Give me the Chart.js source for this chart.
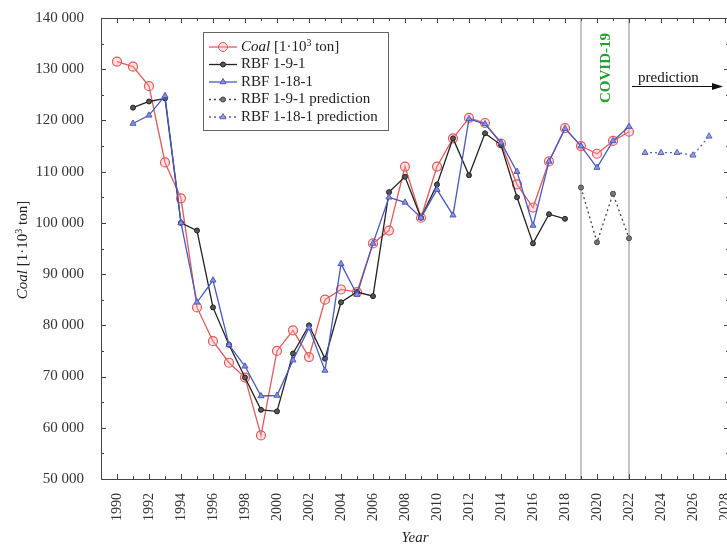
<!DOCTYPE html>
<html>
<head>
<meta charset="utf-8">
<script src="https://cdn.jsdelivr.net/npm/chart.js@4.4.1/dist/chart.umd.min.js"></script>
<style>
  html, body { margin: 0; padding: 0; background: #fff; overflow: hidden; }
  #wrap { width: 760px; height: 548px; }
</style>
</head>
<body>
<div id="wrap"><canvas id="coalChart" width="760" height="548"></canvas></div>
<script>
/* coal production vs RBF models */

const coalYears = [1990, 1991, 1992, 1993, 1994, 1995, 1996, 1997, 1998, 1999, 2000, 2001, 2002, 2003, 2004, 2005, 2006, 2007, 2008, 2009, 2010, 2011, 2012, 2013, 2014, 2015, 2016, 2017, 2018, 2019, 2020, 2021, 2022];
const coalValues = [131500, 130500, 126700, 111800, 104800, 83500, 76900, 72700, 69800, 58500, 75000, 79000, 73800, 85000, 87000, 86500, 96000, 98500, 111000, 101000, 111000, 116500, 120500, 119500, 115500, 107500, 103000, 112000, 118500, 115000, 113500, 116000, 117800];

const rbf191Years = [1991, 1992, 1993, 1994, 1995, 1996, 1997, 1998, 1999, 2000, 2001, 2002, 2003, 2004, 2005, 2006, 2007, 2008, 2009, 2010, 2011, 2012, 2013, 2014, 2015, 2016, 2017, 2018];
const rbf191Values = [122500, 123700, 124300, 100000, 98500, 83500, 76200, 69800, 63500, 63200, 74500, 80000, 73500, 84500, 86500, 85700, 106000, 109000, 101000, 107500, 116500, 109300, 117500, 115200, 105000, 96000, 101700, 100800];

const rbf1181Years = [1991, 1992, 1993, 1994, 1995, 1996, 1997, 1998, 1999, 2000, 2001, 2002, 2003, 2004, 2005, 2006, 2007, 2008, 2009, 2010, 2011, 2012, 2013, 2014, 2015, 2016, 2017, 2018, 2019, 2020, 2021, 2022];
const rbf1181Values = [119400, 121000, 124800, 100000, 84500, 88800, 76200, 72000, 66200, 66300, 73200, 79500, 71200, 92000, 86000, 96000, 105000, 104000, 101000, 106500, 101500, 120300, 119300, 115700, 110000, 99500, 112000, 118400, 115000, 110800, 116000, 118800];

const pred191Years = [2019, 2020, 2021, 2022];
const pred191Values = [106900, 96200, 105700, 97000];

const pred1181Years = [2023, 2024, 2025, 2026, 2027];
const pred1181Values = [113700, 113700, 113700, 113200, 116900];

const xTickYears = [1990, 1992, 1994, 1996, 1998, 2000, 2002, 2004, 2006, 2008, 2010, 2012, 2014, 2016, 2018, 2020, 2022, 2024, 2026, 2028];
const yTicks = [50000, 60000, 70000, 80000, 90000, 100000, 110000, 120000, 130000, 140000];
const covidYears = [2019, 2022];

const SERIF = '"Liberation Serif", "Times New Roman", serif';
const RED = "#e05a5a";
const BLACK = "#222";
const BLUE = "#4a58c0";

function fmt(v) {
  return String(v).replace(/\B(?=(\d{3})+(?!\d))/g, " ");
}

function pts(xs, ys) {
  return xs.map((x, i) => ({ x: x, y: ys[i] }));
}

// legend entries (style only)
const legendItems = [
  { text: "coal", color: RED, fill: "rgba(255,170,170,0.35)", style: "circle", r: 4.5, dash: [] },
  { text: "RBF 1-9-1", color: BLACK, fill: "#555", style: "circle", r: 2.5, dash: [] },
  { text: "RBF 1-18-1", color: BLUE, fill: "#8a92d8", style: "triangle", r: 3.5, dash: [] },
  { text: "RBF 1-9-1 prediction", color: "#444", fill: "#777", style: "circle", r: 2.5, dash: [2, 3] },
  { text: "RBF 1-18-1 prediction", color: "#5a64b8", fill: "#9aa0d8", style: "triangle", r: 3.5, dash: [2, 3] }
];

/* decorations: frame, ticks, covid band, legend, titles */
const decor = {
  id: "decor",
  beforeDatasetsDraw(chart) {
    const ctx = chart.ctx;
    const x = chart.scales.x;
    const a = chart.chartArea;
    ctx.save();
    ctx.strokeStyle = "#c4c4c4";
    ctx.lineWidth = 2;
    covidYears.forEach(yr => {
      const px = Math.round(x.getPixelForValue(yr));
      ctx.beginPath();
      ctx.moveTo(px, a.top);
      ctx.lineTo(px, a.bottom);
      ctx.stroke();
    });
    ctx.restore();
  },
  afterDraw(chart) {
    const ctx = chart.ctx;
    const x = chart.scales.x;
    const y = chart.scales.y;
    const a = chart.chartArea;
    ctx.save();

    // frame
    ctx.strokeStyle = "#444";
    ctx.lineWidth = 1;
    ctx.strokeRect(a.left + 0.5, a.top + 0.5, a.right - a.left, a.bottom - a.top);

    // ticks on all sides
    ctx.beginPath();
    for (let yr = 1989; yr <= 2028; yr++) {
      const px = Math.round(x.getPixelForValue(yr)) + 0.5;
      const len = yr % 2 === 0 ? 5 : 3;
      ctx.moveTo(px, a.bottom);
      ctx.lineTo(px, a.bottom - len);
      ctx.moveTo(px, a.top);
      ctx.lineTo(px, a.top + len);
    }
    for (let v = 50000; v <= 140000; v += 5000) {
      const py = Math.round(y.getPixelForValue(v)) + 0.5;
      const len = v % 10000 === 0 ? 5 : 3;
      ctx.moveTo(a.left, py);
      ctx.lineTo(a.left + len, py);
      ctx.moveTo(a.right, py);
      ctx.lineTo(a.right - len, py);
    }
    ctx.stroke();

    // COVID-19 label
    const cx = (x.getPixelForValue(covidYears[0]) + x.getPixelForValue(covidYears[1])) / 2;
    ctx.save();
    ctx.translate(cx + 5, 68);
    ctx.rotate(-Math.PI / 2);
    ctx.fillStyle = "#23a02e";
    ctx.font = "bold 15px " + SERIF;
    ctx.textAlign = "center";
    ctx.fillText("COVID-19", 0, 0);
    ctx.restore();

    // prediction arrow
    const ax0 = x.getPixelForValue(2022) + 3;
    const ax1 = 723;
    ctx.fillStyle = "#111";
    ctx.font = "15px " + SERIF;
    ctx.textAlign = "left";
    ctx.fillText("prediction", ax0 + 6, 82);
    ctx.strokeStyle = "#111";
    ctx.beginPath();
    ctx.moveTo(ax0, 86.5);
    ctx.lineTo(ax1 - 8, 86.5);
    ctx.stroke();
    ctx.beginPath();
    ctx.moveTo(ax1, 86.5);
    ctx.lineTo(ax1 - 11, 83);
    ctx.lineTo(ax1 - 11, 90);
    ctx.closePath();
    ctx.fill();

    // legend box
    const lx = 203, ly = 32, lw = 185, lh = 98;
    ctx.fillStyle = "#fff";
    ctx.fillRect(lx, ly, lw, lh);
    ctx.strokeStyle = "#666";
    ctx.strokeRect(lx + 0.5, ly + 0.5, lw, lh);
    legendItems.forEach((it, i) => {
      const ry = ly + 15 + i * 17.5;
      ctx.strokeStyle = it.color;
      ctx.lineWidth = 1.3;
      ctx.setLineDash(it.dash);
      ctx.beginPath();
      ctx.moveTo(lx + 6, ry);
      ctx.lineTo(lx + 34, ry);
      ctx.stroke();
      ctx.setLineDash([]);
      ctx.fillStyle = it.fill;
      ctx.lineWidth = 1;
      Chart.helpers.drawPoint(ctx, { pointStyle: it.style, radius: it.r, borderWidth: 1, rotation: 0 }, lx + 20, ry);
      ctx.fillStyle = "#222";
      ctx.textBaseline = "middle";
      if (it.text === "coal") {
        let tx = lx + 38;
        ctx.font = "italic 15px " + SERIF;
        ctx.fillText("Coal", tx, ry);
        tx += ctx.measureText("Coal").width;
        ctx.font = "15px " + SERIF;
        ctx.fillText(" [1·10", tx, ry);
        tx += ctx.measureText(" [1·10").width;
        ctx.font = "10px " + SERIF;
        ctx.fillText("3", tx, ry - 4);
        tx += ctx.measureText("3").width;
        ctx.font = "15px " + SERIF;
        ctx.fillText(" ton]", tx, ry);
      } else {
        ctx.font = "15px " + SERIF;
        ctx.fillText(it.text, lx + 38, ry);
      }
    });
    ctx.textBaseline = "alphabetic";

    // axis titles
    ctx.fillStyle = "#222";
    ctx.font = "italic 15px " + SERIF;
    ctx.textAlign = "center";
    ctx.fillText("Year", 415, 542);

    const parts = [
      { t: "Coal", f: "italic 15px " + SERIF, dy: 0 },
      { t: " [1·10", f: "15px " + SERIF, dy: 0 },
      { t: "3", f: "10px " + SERIF, dy: -5 },
      { t: " ton]", f: "15px " + SERIF, dy: 0 }
    ];
    let total = 0;
    parts.forEach(p => { ctx.font = p.f; total += ctx.measureText(p.t).width; });
    ctx.save();
    ctx.translate(27, 250);
    ctx.rotate(-Math.PI / 2);
    ctx.textAlign = "left";
    let tx = -total / 2;
    parts.forEach(p => {
      ctx.font = p.f;
      ctx.fillText(p.t, tx, p.dy);
      tx += ctx.measureText(p.t).width;
    });
    ctx.restore();

    ctx.restore();
  }
};

new Chart(document.getElementById("coalChart"), {
  type: "line",
  data: {
    datasets: [
      {
        label: "RBF 1-18-1",
        data: pts(rbf1181Years, rbf1181Values),
        borderColor: BLUE,
        backgroundColor: "#8a92d8",
        borderWidth: 1.3,
        pointStyle: "triangle",
        pointRadius: 3.5,
        pointBorderWidth: 1,
        tension: 0
      },
      {
        label: "RBF 1-9-1",
        data: pts(rbf191Years, rbf191Values),
        borderColor: BLACK,
        backgroundColor: "#555",
        borderWidth: 1.3,
        pointStyle: "circle",
        pointRadius: 2.5,
        pointBorderWidth: 1,
        tension: 0
      },
      {
        label: "Coal",
        data: pts(coalYears, coalValues),
        borderColor: RED,
        backgroundColor: "rgba(255,170,170,0.35)",
        borderWidth: 1.3,
        pointStyle: "circle",
        pointRadius: 4.5,
        pointBorderWidth: 1.2,
        tension: 0
      },
      {
        label: "RBF 1-9-1 prediction",
        data: pts(pred191Years, pred191Values),
        borderColor: "#444",
        backgroundColor: "#777",
        borderWidth: 1.3,
        borderDash: [2, 3],
        pointStyle: "circle",
        pointRadius: 2.5,
        pointBorderWidth: 1,
        tension: 0
      },
      {
        label: "RBF 1-18-1 prediction",
        data: pts(pred1181Years, pred1181Values),
        borderColor: "#5a64b8",
        backgroundColor: "#9aa0d8",
        borderWidth: 1.3,
        borderDash: [2, 3],
        pointStyle: "triangle",
        pointRadius: 3.5,
        pointBorderWidth: 1,
        tension: 0
      }
    ]
  },
  options: {
    responsive: false,
    animation: false,
    devicePixelRatio: 1,
    layout: { padding: { left: 0, right: 31, top: 17, bottom: 0 } },
    plugins: {
      legend: { display: false },
      tooltip: { enabled: false }
    },
    scales: {
      x: {
        type: "linear",
        min: 1989,
        max: 2028.25,
        grid: { display: false },
        border: { display: false },
        afterFit: s => { s.height = 69; },
        afterBuildTicks: s => { s.ticks = xTickYears.map(v => ({ value: v })); },
        ticks: {
          autoSkip: false,
          minRotation: 90,
          maxRotation: 90,
          padding: 6,
          color: "#333",
          font: { family: SERIF, size: 14 },
          callback: v => String(v)
        }
      },
      y: {
        min: 50000,
        max: 140000,
        grid: { display: false },
        border: { display: false },
        afterFit: s => { s.width = 101; },
        afterBuildTicks: s => { s.ticks = yTicks.map(v => ({ value: v })); },
        ticks: {
          padding: 9,
          color: "#333",
          font: { family: SERIF, size: 15 },
          callback: v => fmt(v)
        }
      }
    }
  },
  plugins: [decor]
});
</script>
</body>
</html>
